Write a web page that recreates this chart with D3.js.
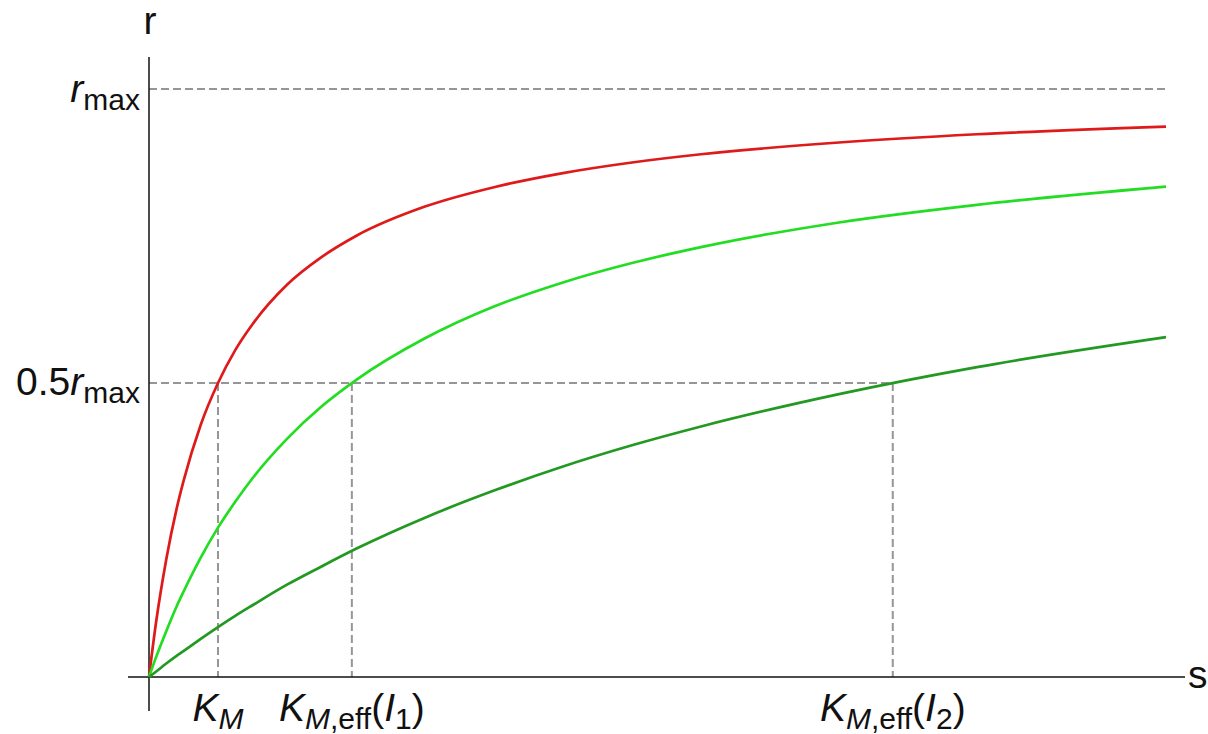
<!DOCTYPE html>
<html><head><meta charset="utf-8">
<script src="https://cdn.jsdelivr.net/npm/d3@7/dist/d3.min.js"></script>
<style>
html,body{margin:0;padding:0;background:#fff;}
svg text{font-family:"Liberation Sans",Arial,Helvetica,sans-serif;fill:#111;}
</style></head>
<body><svg id="c" width="1208" height="734"></svg>
<script>
// substrate concentration samples (units of K_M)
const sValues = [0, 0.1, 0.25, 0.4, 0.5, 0.75, 1, 1.25, 1.5, 2, 2.5, 3, 4, 5, 6, 7, 8, 10, 12, 14.74];
// reaction rate (fraction of r_max)
const rNoInhibitor = [0, 0.091, 0.2, 0.286, 0.333, 0.429, 0.5, 0.556, 0.6, 0.667, 0.714, 0.75, 0.8, 0.833, 0.857, 0.875, 0.889, 0.909, 0.923, 0.936];
const rInhibitor1  = [0, 0.033, 0.078, 0.120, 0.145, 0.203, 0.254, 0.298, 0.338, 0.405, 0.460, 0.505, 0.576, 0.630, 0.671, 0.704, 0.731, 0.773, 0.803, 0.834];
const rInhibitor2  = [0, 0.009, 0.023, 0.036, 0.044, 0.065, 0.085, 0.104, 0.122, 0.157, 0.188, 0.218, 0.271, 0.317, 0.358, 0.394, 0.426, 0.481, 0.527, 0.578];
const kmMarks = [1, 2.94, 10.78];
const rMax = 1, halfRMax = 0.5;
const seriesColors = ["#de1a1a", "#22dd22", "#229a22"];

const svg = d3.select("#c");
const x = d3.scaleLinear().domain([0, 14.74]).range([149, 1166]);
const y = d3.scaleLinear().domain([0, 1]).range([677, 89]);

// dashed guides
function dline(x1,y1,x2,y2){
  svg.append("line").attr("x1",x1).attr("y1",y1).attr("x2",x2).attr("y2",y2)
    .attr("stroke","#969696").attr("stroke-width",2).attr("stroke-dasharray","8,4");
}
dline(x(0), y(rMax), x(14.74), y(rMax));
dline(x(0), y(halfRMax), x(d3.max(kmMarks)), y(halfRMax));
kmMarks.forEach(k => dline(x(k), y(halfRMax), x(k), y(0)));

// axes
svg.append("line").attr("x1", x(0)-21).attr("x2", x(14.74)+19).attr("y1", y(0)).attr("y2", y(0))
  .attr("stroke","#111").attr("stroke-width",1.5);
svg.append("line").attr("x1", x(0)).attr("x2", x(0)).attr("y1", y(0)+34).attr("y2", y(rMax)-32)
  .attr("stroke","#111").attr("stroke-width",1.5);

// curves
const line = d3.line().x((d,i)=>x(sValues[i])).y(d=>y(d)).curve(d3.curveMonotoneX);
[rNoInhibitor, rInhibitor1, rInhibitor2].forEach((arr,i)=>{
  svg.append("path").attr("d", line(arr)).attr("fill","none")
    .attr("stroke", seriesColors[i]).attr("stroke-width", 2.7);
});

// labels
const FS = 39, SFS = 30;
function rich(parent, xpos, ypos, anchor, parts){
  const t = parent.append("text").attr("x",xpos).attr("y",ypos).attr("text-anchor",anchor).attr("font-size",FS);
  let shifted = 0;
  parts.forEach(p=>{
    const ts = t.append("tspan").text(p.t);
    if (p.i) ts.attr("font-style","italic");
    const want = p.sub ? 8 : 0;
    if (want !== shifted) { ts.attr("dy", want - shifted); shifted = want; }
    if (p.sub) ts.attr("font-size", SFS);
  });
  return t;
}
svg.append("text").attr("x",150).attr("y",34).attr("text-anchor","middle").attr("font-size",FS).text("r");
svg.append("text").attr("x",1188).attr("y",688).attr("font-size",FS).text("s");

rich(svg, 140, y(rMax)+13, "end", [{t:"r",i:true},{t:"max",sub:true}]);
rich(svg, 140, y(halfRMax)+12, "end", [{t:"0.5"},{t:"r",i:true},{t:"max",sub:true}]);

const kLabels = [
  [{t:"K",i:true},{t:"M",i:true,sub:true}],
  [{t:"K",i:true},{t:"M",i:true,sub:true},{t:",eff",sub:true},{t:"("},{t:"I",i:true},{t:"1",sub:true},{t:")"}],
  [{t:"K",i:true},{t:"M",i:true,sub:true},{t:",eff",sub:true},{t:"("},{t:"I",i:true},{t:"2",sub:true},{t:")"}]
];
kmMarks.forEach((k,i)=> rich(svg, x(k), 721, "middle", kLabels[i]));
</script></body></html>
